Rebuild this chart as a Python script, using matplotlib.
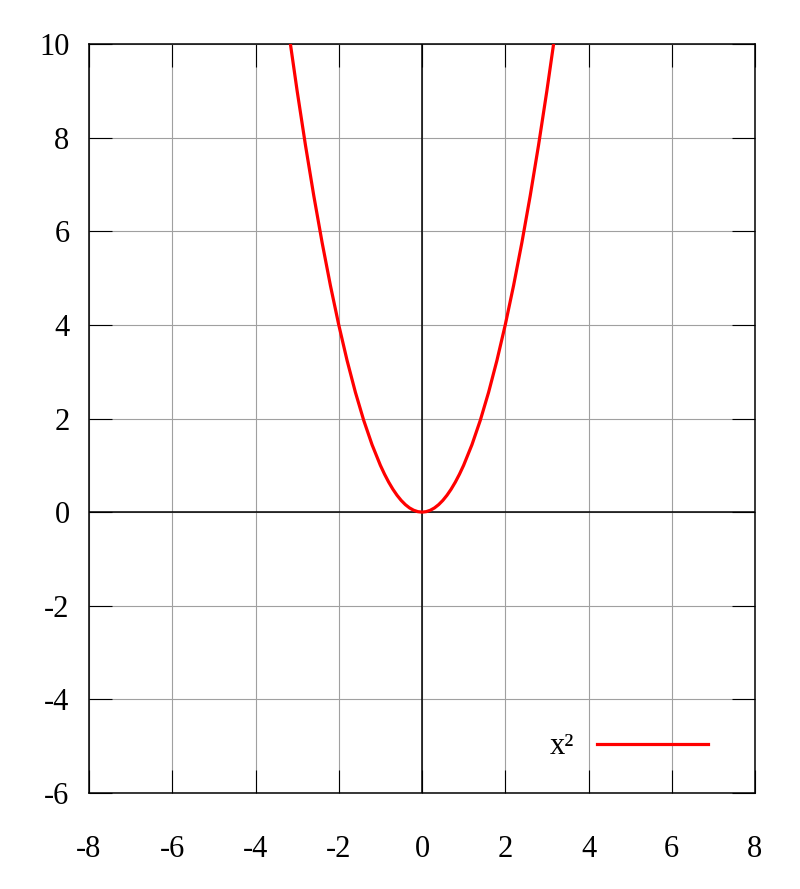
import numpy as np
import matplotlib.pyplot as plt

plt.rcParams['font.family'] = ['Liberation Serif', 'DejaVu Serif']

# points
x_vals = [-3.2, -3.0, -2.8, -2.6, -2.4, -2.2, -2.0, -1.8, -1.6, -1.4, -1.2, -1.0, -0.9,
          -0.8, -0.7, -0.6, -0.5, -0.4, -0.3, -0.2, -0.1, 0.0, 0.1, 0.2, 0.3, 0.4,
          0.5, 0.6, 0.7, 0.8, 0.9, 1.0, 1.2, 1.4, 1.6, 1.8, 2.0, 2.2, 2.4, 2.6, 2.8,
          3.0, 3.2]
y_vals = [10.24, 9.0, 7.84, 6.76, 5.76, 4.84, 4.0, 3.24, 2.56, 1.96, 1.44, 1.0, 0.81,
          0.64, 0.49, 0.36, 0.25, 0.16, 0.09, 0.04, 0.01, 0.0, 0.01, 0.04, 0.09, 0.16,
          0.25, 0.36, 0.49, 0.64, 0.81, 1.0, 1.44, 1.96, 2.56, 3.24, 4.0, 4.84, 5.76,
          6.76, 7.84, 9.0, 10.24]
series_label = 'x²'
xticks = [-8, -6, -4, -2, 0, 2, 4, 6, 8]
yticks = [-6, -4, -2, 0, 2, 4, 6, 8, 10]

fig = plt.figure(figsize=(8, 8.89), dpi=100)
ax = fig.add_axes([89/800, 1 - 793/889, (755-89)/800, (793-44)/889])

ax.grid(True, color='#a0a0a0', linewidth=0.8)
ax.set_axisbelow(True)
ax.axhline(0, color='black', linewidth=1.1, zorder=1.5)
ax.axvline(0, color='black', linewidth=1.1, zorder=1.5)

ax.plot(x_vals, y_vals, color='#ff0000', linewidth=2.3, label=series_label, zorder=3)

ax.set_xlim(-8, 8)
ax.set_ylim(-6, 10)
ax.set_xticks(xticks)
ax.set_yticks(yticks)
ax.set_xticklabels([str(t) for t in xticks])
ax.set_yticklabels([str(t) for t in yticks])
ax.tick_params(direction='in', length=16.5, width=0.8, top=True, right=True,
               labelsize=22)
ax.tick_params(axis='x', pad=30)
ax.tick_params(axis='y', pad=14)
for s in ax.spines.values():
    s.set_linewidth(1.1)

leg = ax.legend(loc='center right', bbox_to_anchor=(736/800, 1 - 747/889),
                bbox_transform=fig.transFigure, frameon=False, markerfirst=False,
                fontsize=22, handlelength=3.64, handletextpad=0.75)

fig.savefig('out.png', dpi=100)
